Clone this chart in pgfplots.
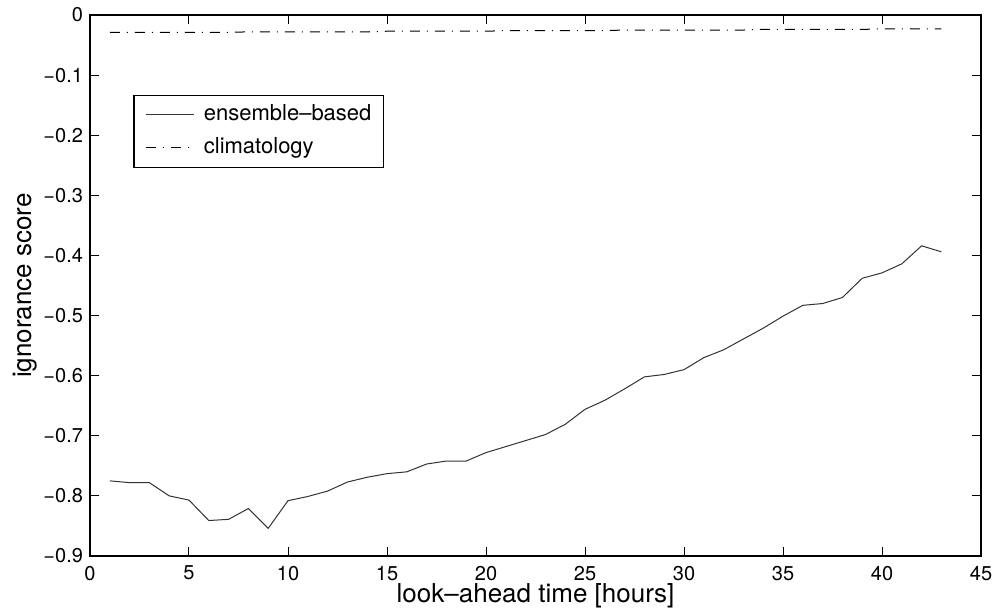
\documentclass[border=0pt]{standalone}
\usepackage{fontspec}
\setmainfont{TeX Gyre Heros}
\usepackage{pgfplots}
\pgfplotsset{compat=1.18}

\begin{document}
\begin{tikzpicture}
\useasboundingbox (-45pt,-29.5pt) rectangle (452pt,278pt);
\begin{axis}[
    at={(0,0)}, anchor=south west,
    scale only axis, width=445.5pt, height=270.5pt,
    xmin=0, xmax=45, ymin=-0.9, ymax=0,
    xtick={0,5,10,15,20,25,30,35,40,45},
    ytick={-0.9,-0.8,-0.7,-0.6,-0.5,-0.4,-0.3,-0.2,-0.1,0},
    yticklabels={−0.9,−0.8,−0.7,−0.6,−0.5,−0.4,−0.3,−0.2,−0.1,0},
    /pgf/number format/assume math mode=true,
    tick align=inside, tick pos=both,
    major tick length=4.5pt,
    axis line style={line width=0.6pt},
    every tick/.style={black, line width=0.5pt},
    tick label style={font=\fontsize{10}{12}\selectfont},
    xticklabel shift=1.5pt,
    xlabel={look–ahead time [hours]},
    ylabel={ignorance score},
    label style={font=\fontsize{13}{15}\selectfont},
    xlabel style={at={(axis description cs:0.5,-0.0855)}, anchor=base},
    ylabel style={at={(axis description cs:-0.0662,0.5)}, anchor=base},
    legend cell align=left,
    legend image code/.code={\draw[#1] (0pt,0pt) -- (24pt,0pt);},
    legend style={at={(0.0486,0.853)}, anchor=north west,
        draw=black, line width=0.6pt,
        inner xsep=6pt, inner ysep=4pt,
        font=\fontsize{11}{13}\selectfont,
        nodes={inner sep=0pt, text height=8.5pt, text depth=3pt},
        row sep=5pt, column sep=4.5pt},
]
\addplot[black!80, line width=0.5pt] coordinates {
    (1,-0.775) (2,-0.778) (3,-0.778) (4,-0.800) (5,-0.807)
    (6,-0.841) (7,-0.839) (8,-0.821) (9,-0.854) (10,-0.808)
    (11,-0.801) (12,-0.792) (13,-0.777) (14,-0.769) (15,-0.763)
    (16,-0.760) (17,-0.747) (18,-0.742) (19,-0.742) (20,-0.728)
    (21,-0.718) (22,-0.708) (23,-0.698) (24,-0.681) (25,-0.656)
    (26,-0.641) (27,-0.622) (28,-0.602) (29,-0.598) (30,-0.590)
    (31,-0.570) (32,-0.557) (33,-0.539) (34,-0.521) (35,-0.501)
    (36,-0.483) (37,-0.480) (38,-0.470) (39,-0.438) (40,-0.429)
    (41,-0.414) (42,-0.384) (43,-0.394)
};
\addlegendentry{ensemble–based}
\addplot[black, line width=0.5pt,
    dash pattern=on 5pt off 3.5pt on 0.5pt off 3.5pt] coordinates {
    (1,-0.029) (2,-0.029) (3,-0.029) (4,-0.029) (5,-0.029)
    (6,-0.029) (7,-0.029) (8,-0.028) (9,-0.028) (10,-0.028)
    (11,-0.028) (12,-0.028) (13,-0.028) (14,-0.028) (15,-0.027)
    (16,-0.027) (17,-0.027) (18,-0.027) (19,-0.027) (20,-0.027)
    (21,-0.026) (22,-0.026) (23,-0.026) (24,-0.026) (25,-0.026)
    (26,-0.026) (27,-0.025) (28,-0.025) (29,-0.025) (30,-0.025)
    (31,-0.025) (32,-0.025) (33,-0.025) (34,-0.024) (35,-0.024)
    (36,-0.024) (37,-0.024) (38,-0.024) (39,-0.024) (40,-0.023)
    (41,-0.023) (42,-0.023) (43,-0.023)
};
\addlegendentry{climatology}
\end{axis}
\end{tikzpicture}
\end{document}
